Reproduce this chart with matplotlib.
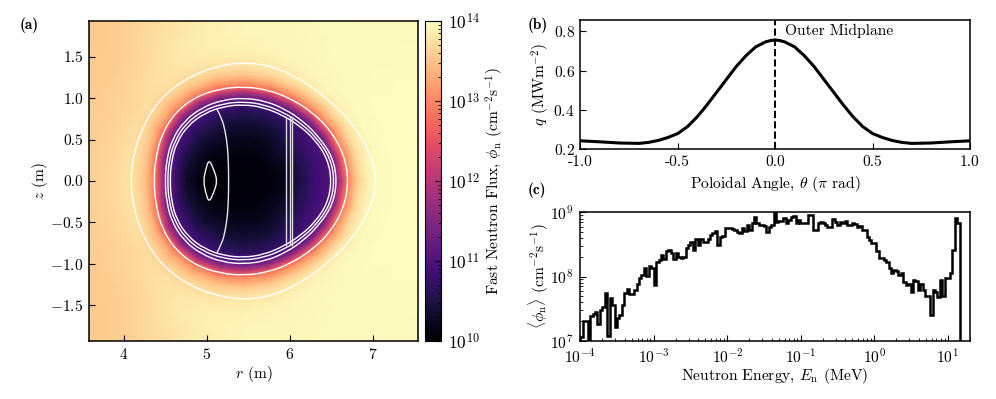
import numpy as np
import matplotlib
matplotlib.use('Agg')
import matplotlib.pyplot as plt
from matplotlib.cm import ScalarMappable
from matplotlib.colors import Normalize
from matplotlib.patches import PathPatch
from matplotlib.path import Path

plt.rcParams['font.family'] = ['cmr10', 'DejaVu Sans']
plt.rcParams['mathtext.fontset'] = 'cm'
plt.rcParams['axes.formatter.use_mathtext'] = True
plt.rcParams['axes.unicode_minus'] = False
plt.rcParams['font.size'] = 10
plt.rcParams['axes.linewidth'] = 1.1

# panel (a): log10 flux sampled along rays from the plot centre, upper half only
r_center = 5.45
ray_angles = [0, 15, 30, 45, 60, 75, 90, 105, 120, 135, 150, 165, 180]
ray_radii = [0, .3, .5, .7, .85, .95, 1.0, 1.05, 1.1, 1.15, 1.2, 1.25, 1.3, 1.35, 1.4, 1.5, 1.6, 1.8, 2.1, 2.5, 3.0]
log_flux = [
    [10.05, 10.10, 10.20, 10.55, 10.80, 10.90, 10.95, 11.00, 11.30, 11.80, 12.40, 12.90, 13.20, 13.50, 13.70, 13.90, 13.97, 14.00, 14.00, 14.00, 14.00],
    [10.05, 10.10, 10.20, 10.55, 10.80, 10.90, 10.95, 11.05, 11.40, 11.95, 12.55, 13.00, 13.28, 13.55, 13.72, 13.90, 13.97, 14.00, 14.00, 14.00, 14.00],
    [10.05, 10.10, 10.25, 10.55, 10.80, 10.92, 11.00, 11.15, 11.60, 12.20, 12.70, 13.15, 13.35, 13.60, 13.75, 13.92, 13.97, 13.99, 14.00, 14.00, 14.00],
    [10.05, 10.10, 10.25, 10.50, 10.70, 10.90, 11.05, 11.35, 11.90, 12.50, 13.00, 13.30, 13.50, 13.70, 13.82, 13.93, 13.96, 13.98, 13.98, 13.98, 13.98],
    [10.05, 10.10, 10.20, 10.40, 10.65, 10.90, 11.15, 11.60, 12.20, 12.80, 13.15, 13.40, 13.60, 13.74, 13.83, 13.91, 13.94, 13.96, 13.97, 13.97, 13.97],
    [10.05, 10.10, 10.20, 10.40, 10.62, 10.90, 11.20, 11.65, 12.25, 12.85, 13.15, 13.40, 13.60, 13.72, 13.80, 13.88, 13.92, 13.94, 13.95, 13.95, 13.95],
    [10.05, 10.10, 10.20, 10.40, 10.62, 10.90, 11.20, 11.65, 12.20, 12.85, 13.15, 13.35, 13.55, 13.68, 13.77, 13.85, 13.90, 13.93, 13.93, 13.93, 13.93],
    [10.05, 10.10, 10.20, 10.40, 10.65, 10.90, 11.15, 11.55, 12.10, 12.70, 13.05, 13.30, 13.50, 13.64, 13.72, 13.82, 13.86, 13.88, 13.85, 13.80, 13.80],
    [10.05, 10.10, 10.20, 10.45, 10.70, 10.90, 11.10, 11.40, 11.90, 12.50, 13.00, 13.25, 13.45, 13.58, 13.68, 13.76, 13.80, 13.80, 13.72, 13.64, 13.62],
    [10.05, 10.08, 10.15, 10.40, 10.70, 10.90, 11.10, 11.40, 11.90, 12.50, 13.00, 13.25, 13.42, 13.55, 13.64, 13.72, 13.73, 13.68, 13.60, 13.55, 13.54],
    [10.05, 10.08, 10.12, 10.40, 10.75, 11.00, 11.25, 11.70, 12.20, 12.80, 13.15, 13.40, 13.55, 13.65, 13.70, 13.72, 13.68, 13.62, 13.57, 13.55, 13.55],
    [10.05, 10.06, 10.08, 10.35, 10.80, 11.20, 11.60, 12.20, 12.80, 13.15, 13.42, 13.58, 13.66, 13.72, 13.75, 13.72, 13.68, 13.62, 13.58, 13.55, 13.55],
    [10.05, 10.05, 10.05, 10.30, 10.90, 11.40, 12.00, 12.60, 13.00, 13.25, 13.50, 13.60, 13.68, 13.74, 13.78, 13.72, 13.68, 13.62, 13.58, 13.55, 13.55],
]

# white surfaces, radius from r_center on the same rays
surface_outer = [1.61, 1.55, 1.47, 1.415, 1.405, 1.43, 1.44, 1.43, 1.425, 1.42, 1.395, 1.375, 1.375]
surface_edge = [1.26, 1.245, 1.21, 1.17, 1.145, 1.14, 1.142, 1.155, 1.175, 1.175, 1.145, 1.105, 1.09]
surface_a = [1.12, 1.105, 1.05, 1.015, 1.0, 1.0, 1.005, 1.015, 1.025, 1.025, 1.005, .97, .955]
surface_b = [1.09, 1.075, 1.02, .98, .955, .955, .96, .97, .985, .99, .97, .94, .925]
surface_c = [1.055, 1.04, .99, .945, .92, .92, .925, .935, .95, .955, .94, .91, .895]
d_curve_r = [5.12, 5.18, 5.222, 5.25, 5.26, 5.262, 5.26, 5.25, 5.222, 5.18, 5.12]
d_curve_z = [.87, .76, .6, .4, .2, 0, -.2, -.4, -.6, -.76, -.87]
lens_r = [5.025, 5.09, 5.125, 5.09, 5.025, 4.98, 4.96, 4.98]
lens_z = [.27, .12, 0, -.12, -.27, -.12, 0, .12]
vertical_r = [5.955, 6.0, 6.03]
vertical_z = [-.775, .78]

# panel (b)
theta = [-1, -.9, -.8, -.7, -.65, -.6, -.55, -.5, -.45, -.4, -.35, -.3, -.25, -.2, -.15, -.1, -.05, -.025, 0,
         .025, .05, .1, .15, .2, .25, .3, .35, .4, .45, .5, .55, .6, .65, .7, .8, .9, 1]
heat_flux = [.243, .238, .232, .23, .235, .245, .26, .28, .315, .365, .425, .49, .555, .62, .675, .72, .745, .752, .755,
             .752, .745, .72, .675, .62, .555, .49, .425, .365, .315, .28, .26, .245, .235, .23, .232, .238, .243]

# panel (c): log10 of the group flux, 155 log spaced groups
log_phi = [
    7.06, 7.30, 7.30, 7.01, 7.38, 7.42, 7.44, 7.26, 7.48, 7.53,
    7.74, 7.07, 7.66, 7.56, 7.21, 7.36, 7.40, 7.56, 7.74, 7.80,
    7.73, 7.73, 7.79, 7.89, 7.97, 8.02, 8.14, 8.01, 8.16, 8.14,
    7.87, 8.23, 8.26, 8.34, 8.28, 8.39, 8.42, 8.36, 8.28, 8.36,
    8.31, 8.29, 8.31, 8.44, 8.49, 8.54, 8.41, 8.59, 8.49, 8.58,
    8.54, 8.54, 8.58, 8.65, 8.68, 8.71, 8.49, 8.61, 8.63, 8.75,
    8.76, 8.76, 8.74, 8.72, 8.70, 8.68, 8.75, 8.71, 8.80, 8.73,
    8.83, 8.92, 8.83, 8.80, 8.80, 8.78, 8.70, 8.77, 8.80, 8.99,
    8.85, 8.87, 8.87, 8.91, 8.83, 8.88, 8.92, 8.94, 8.83, 8.88,
    8.83, 8.83, 8.83, 8.96, 8.96, 8.73, 8.73, 8.83, 8.85, 8.83,
    8.80, 8.77, 8.77, 8.89, 8.85, 8.80, 8.85, 8.83, 8.87, 8.80,
    8.80, 8.83, 8.81, 8.77, 8.78, 8.73, 8.73, 8.62, 8.57, 8.52,
    8.52, 8.39, 8.29, 8.29, 8.26, 8.23, 8.13, 8.05, 8.10, 8.09,
    8.02, 8.05, 7.92, 7.87, 7.88, 7.76, 7.94, 7.93, 7.79, 7.89,
    7.79, 7.69, 7.69, 7.40, 7.79, 7.76, 7.68, 7.94, 7.70, 7.97,
    7.97, 8.05, 8.41, 8.91, 8.83,
]
e_low = 1e-4
e_high = 14.4

label_size = 11.2
tick_size = 11.2


def smooth_patch(r, z, closed=True, **kwargs):
    # quadratic curves through the read points so no corners show
    pts = np.column_stack([r, z])
    if closed:
        start = (pts[-1] + pts[0]) / 2
        verts = [start]
        codes = [Path.MOVETO]
        for i in range(len(pts)):
            nxt = pts[(i + 1) % len(pts)]
            verts += [pts[i], (pts[i] + nxt) / 2]
            codes += [Path.CURVE3, Path.CURVE3]
    else:
        verts = [pts[0]]
        codes = [Path.MOVETO]
        for i in range(1, len(pts) - 1):
            end = (pts[i] + pts[i + 1]) / 2 if i < len(pts) - 2 else pts[-1]
            verts += [pts[i], end]
            codes += [Path.CURVE3, Path.CURVE3]
    return PathPatch(Path(np.array(verts), codes), fill=False, **kwargs)


def surface_rz(radii):
    ang = np.radians(ray_angles)
    rr = np.array(radii)
    r = np.r_[r_center + rr * np.cos(ang), r_center + rr[-2:0:-1] * np.cos(-ang[-2:0:-1])]
    z = np.r_[rr * np.sin(ang), rr[-2:0:-1] * np.sin(-ang[-2:0:-1])]
    return r, z


def box(x0, x1, y0, y1):
    # pixel box of the 996x399 picture to figure fractions
    return [x0 / 996, 1 - y1 / 399, (x1 - x0) / 996, (y1 - y0) / 399]


fig = plt.figure(figsize=(9.96, 3.99), dpi=100)
ax_a = fig.add_axes(box(89, 418, 21, 341))
cax = fig.add_axes(box(424.5, 441, 21, 341))
ax_b = fig.add_axes(box(580.3, 970, 20.3, 149.3))
ax_c = fig.add_axes(box(580.3, 970, 212.3, 340.7))

# panel (a)
half = np.array(log_flux)
grid = np.vstack([half, half[-2::-1]])
ang = np.radians(np.r_[ray_angles, 360 - np.array(ray_angles[-2::-1])])
rad = np.array(ray_radii)
R_mesh = r_center + np.outer(np.cos(ang), rad)
Z_mesh = np.outer(np.sin(ang), rad)
norm = Normalize(10, 14)
ax_a.pcolormesh(R_mesh, Z_mesh, grid, shading='gouraud', cmap='magma', norm=norm, rasterized=True)
for radii in [surface_outer, surface_edge, surface_a, surface_b, surface_c]:
    r, z = surface_rz(radii)
    ax_a.add_patch(smooth_patch(r, z, color='white', lw=1.0))
ax_a.add_patch(smooth_patch(d_curve_r, d_curve_z, closed=False, color='#e6e6e6', lw=1.0))
ax_a.add_patch(smooth_patch(lens_r, lens_z, color='#f0f0f0', lw=1.0))
for r0 in vertical_r:
    ax_a.plot([r0, r0], vertical_z, color='#dddddd', lw=1.0)
ax_a.set_xlim(3.578, 7.546)
ax_a.set_ylim(-1.935, 1.935)
ax_a.set_xticks([4, 5, 6, 7])
ax_a.set_yticks([-1.5, -1, -.5, 0, .5, 1, 1.5])
ax_a.set_yticklabels(['$-1.5$', '$-1.0$', '$-0.5$', '0.0', '0.5', '1.0', '1.5'])
ax_a.tick_params(direction='in', length=4, width=0.8, labelsize=tick_size, pad=4)
ax_a.set_xlabel(r'$r$ (m)', fontsize=label_size, labelpad=2)
ax_a.set_ylabel(r'$z$ (m)', fontsize=label_size, labelpad=0)

# colorbar
cb = fig.colorbar(ScalarMappable(norm=norm, cmap='magma'), cax=cax)
cb.outline.set_linewidth(0.8)
cax.set_yticks([10, 11, 12, 13, 14])
cax.set_yticklabels(['$10^{10}$', '$10^{11}$', '$10^{12}$', '$10^{13}$', '$10^{14}$'])
minor = [d + np.log10(m) for d in range(10, 14) for m in range(2, 10)]
cax.set_yticks(minor, minor=True)
cax.tick_params(which='major', direction='in', length=4, width=0.8, labelsize=12.5, pad=5)
cax.tick_params(which='minor', direction='in', length=2, width=0.6)
cb.set_label(r'Fast Neutron Flux, $\phi_{\rm n}$ (cm$^{-2}$s$^{-1}$)', fontsize=label_size, labelpad=3)

# panel (b)
ax_b.plot(theta, heat_flux, color='black', lw=2.2, solid_joinstyle='round')
ax_b.axvline(-0.003, color='black', ls='--', lw=1.4)
ax_b.text(0.05, 0.8, 'Outer Midplane', fontsize=label_size, va='center', ha='left')
ax_b.set_xlim(-1, 1)
ax_b.set_ylim(0.2, 0.855)
ax_b.set_xticks([-1, -.5, 0, .5, 1])
ax_b.set_xticklabels(['-1.0', '-0.5', '0.0', '0.5', '1.0'])
ax_b.set_yticks([.2, .4, .6, .8])
ax_b.tick_params(direction='in', length=4, width=0.8, labelsize=tick_size, pad=4)
ax_b.set_xlabel(r'Poloidal Angle, $\theta$ ($\pi$ rad)', fontsize=label_size, labelpad=4)
ax_b.set_ylabel(r'$q$ (MWm$^{-2}$)', fontsize=label_size, labelpad=1)

# panel (c)
edges = np.logspace(np.log10(e_low), np.log10(e_high), len(log_phi) + 1)
ax_c.stairs(10.0 ** np.array(log_phi), edges, baseline=1e6, color='black', lw=1.8)
ax_c.set_xscale('log')
ax_c.set_yscale('log')
ax_c.set_xlim(1e-4, 20)
ax_c.set_ylim(1e7, 1e9)
ax_c.set_xticks([1e-4, 1e-3, 1e-2, 1e-1, 1, 10])
ax_c.tick_params(which='major', direction='in', length=4, width=0.8, labelsize=tick_size, pad=5)
ax_c.tick_params(which='minor', direction='in', length=2, width=0.6)
ax_c.set_xlabel(r'Neutron Energy, $E_{\rm n}$ (MeV)', fontsize=label_size, labelpad=0)
ax_c.set_ylabel(r'$\langle\phi_{\rm n}\rangle$ (cm$^{-2}$s$^{-1}$)', fontsize=label_size, labelpad=-1)

# panel letters
fig.text(20 / 996, 1 - 25 / 399, '(a)', family='cmb10', fontsize=11, va='center')
fig.text(528 / 996, 1 - 25 / 399, '(b)', family='cmb10', fontsize=11, va='center')
fig.text(528 / 996, 1 - 190 / 399, '(c)', family='cmb10', fontsize=11, va='center')

fig.savefig('out.png', dpi=100)
